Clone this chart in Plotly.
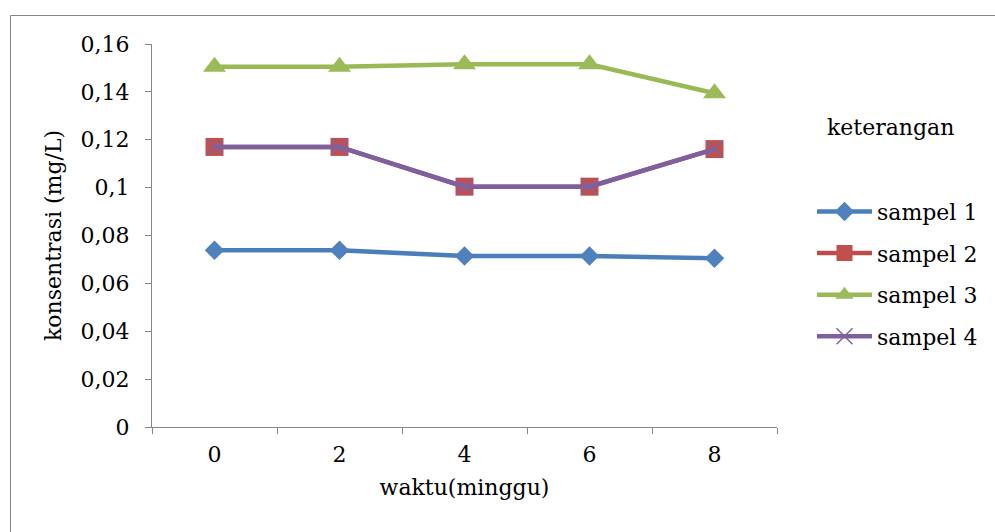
import plotly.graph_objects as go

# Sampling time (weeks) and measured concentration (mg/L) for each sample
weeks = ["0", "2", "4", "6", "8"]
sampel_1 = [0.0738, 0.0738, 0.0714, 0.0714, 0.0705]
sampel_2 = [0.117, 0.117, 0.1004, 0.1004, 0.1161]
sampel_3 = [0.1505, 0.1505, 0.1515, 0.1515, 0.1394]
sampel_4 = [0.117, 0.117, 0.1004, 0.1004, 0.1161]

y_ticks = [0, 0.02, 0.04, 0.06, 0.08, 0.1, 0.12, 0.14, 0.16]
y_tick_text = ["0", "0,02", "0,04", "0,06", "0,08", "0,1", "0,12", "0,14", "0,16"]

FONT = "DejaVu Serif"
AXIS_GREY = "#868686"

series = [
    ("sampel 1", sampel_1, "#4A7EBB", dict(symbol="diamond", size=15, color="#4F81BD")),
    ("sampel 2", sampel_2, "#BE4B48", dict(symbol="square", size=18, color="#C0504D")),
    ("sampel 3", sampel_3, "#98B954", dict(symbol="triangle-up", size=20, color="#9BBB59")),
    ("sampel 4", sampel_4, "#7D60A0", dict(symbol="x-thin", size=16, color="#8064A2",
                                          line=dict(color="#8064A2", width=1.5))),
]

fig = go.Figure()
for name, values, line_color, marker in series:
    fig.add_trace(go.Scatter(
        x=weeks, y=values, name=name, mode="lines+markers",
        line=dict(color=line_color, width=4.5),
        marker=marker,
        legendgroup=name,
    ))

fig.update_layout(
    width=995, height=532,
    margin=dict(l=152, r=218, t=44, b=105),
    paper_bgcolor="white", plot_bgcolor="white",
    font=dict(family=FONT, size=22, color="black"),
    showlegend=True,
    legend=dict(
        x=1.056, y=0.617, xanchor="left", yanchor="top",
        font=dict(family=FONT, size=22, color="black"),
        tracegroupgap=10, itemwidth=55,
        bgcolor="rgba(0,0,0,0)",
    ),
    xaxis=dict(
        type="category", tickson="boundaries", range=[-0.5, 4.5],
        showline=True, linecolor=AXIS_GREY, linewidth=1,
        ticks="outside", ticklen=6, tickcolor=AXIS_GREY,
        showgrid=False, zeroline=False,
        ticklabelstandoff=8,
        title=dict(text="waktu(minggu)", standoff=13,
                   font=dict(family=FONT, size=22)),
    ),
    yaxis=dict(
        range=[0, 0.16], tickvals=y_ticks, ticktext=y_tick_text,
        showline=True, linecolor=AXIS_GREY, linewidth=1,
        ticks="outside", ticklen=6, tickcolor=AXIS_GREY,
        showgrid=False, zeroline=False,
        ticklabelstandoff=11,
        title=dict(text="konsentrasi (mg/L)", standoff=12,
                   font=dict(family=FONT, size=22)),
    ),
    annotations=[dict(
        text="keterangan", xref="paper", yref="paper",
        x=1.181, y=0.783, xanchor="center", yanchor="middle",
        showarrow=False, font=dict(family=FONT, size=22, color="black"),
    )],
    shapes=[dict(
        type="rect", xref="paper", yref="paper",
        x0=-0.2264, x1=1.36, y0=-0.3, y1=1.0744,
        line=dict(color=AXIS_GREY, width=1), fillcolor="rgba(0,0,0,0)",
        layer="below",
    )],
)

fig.write_html("out.html")
